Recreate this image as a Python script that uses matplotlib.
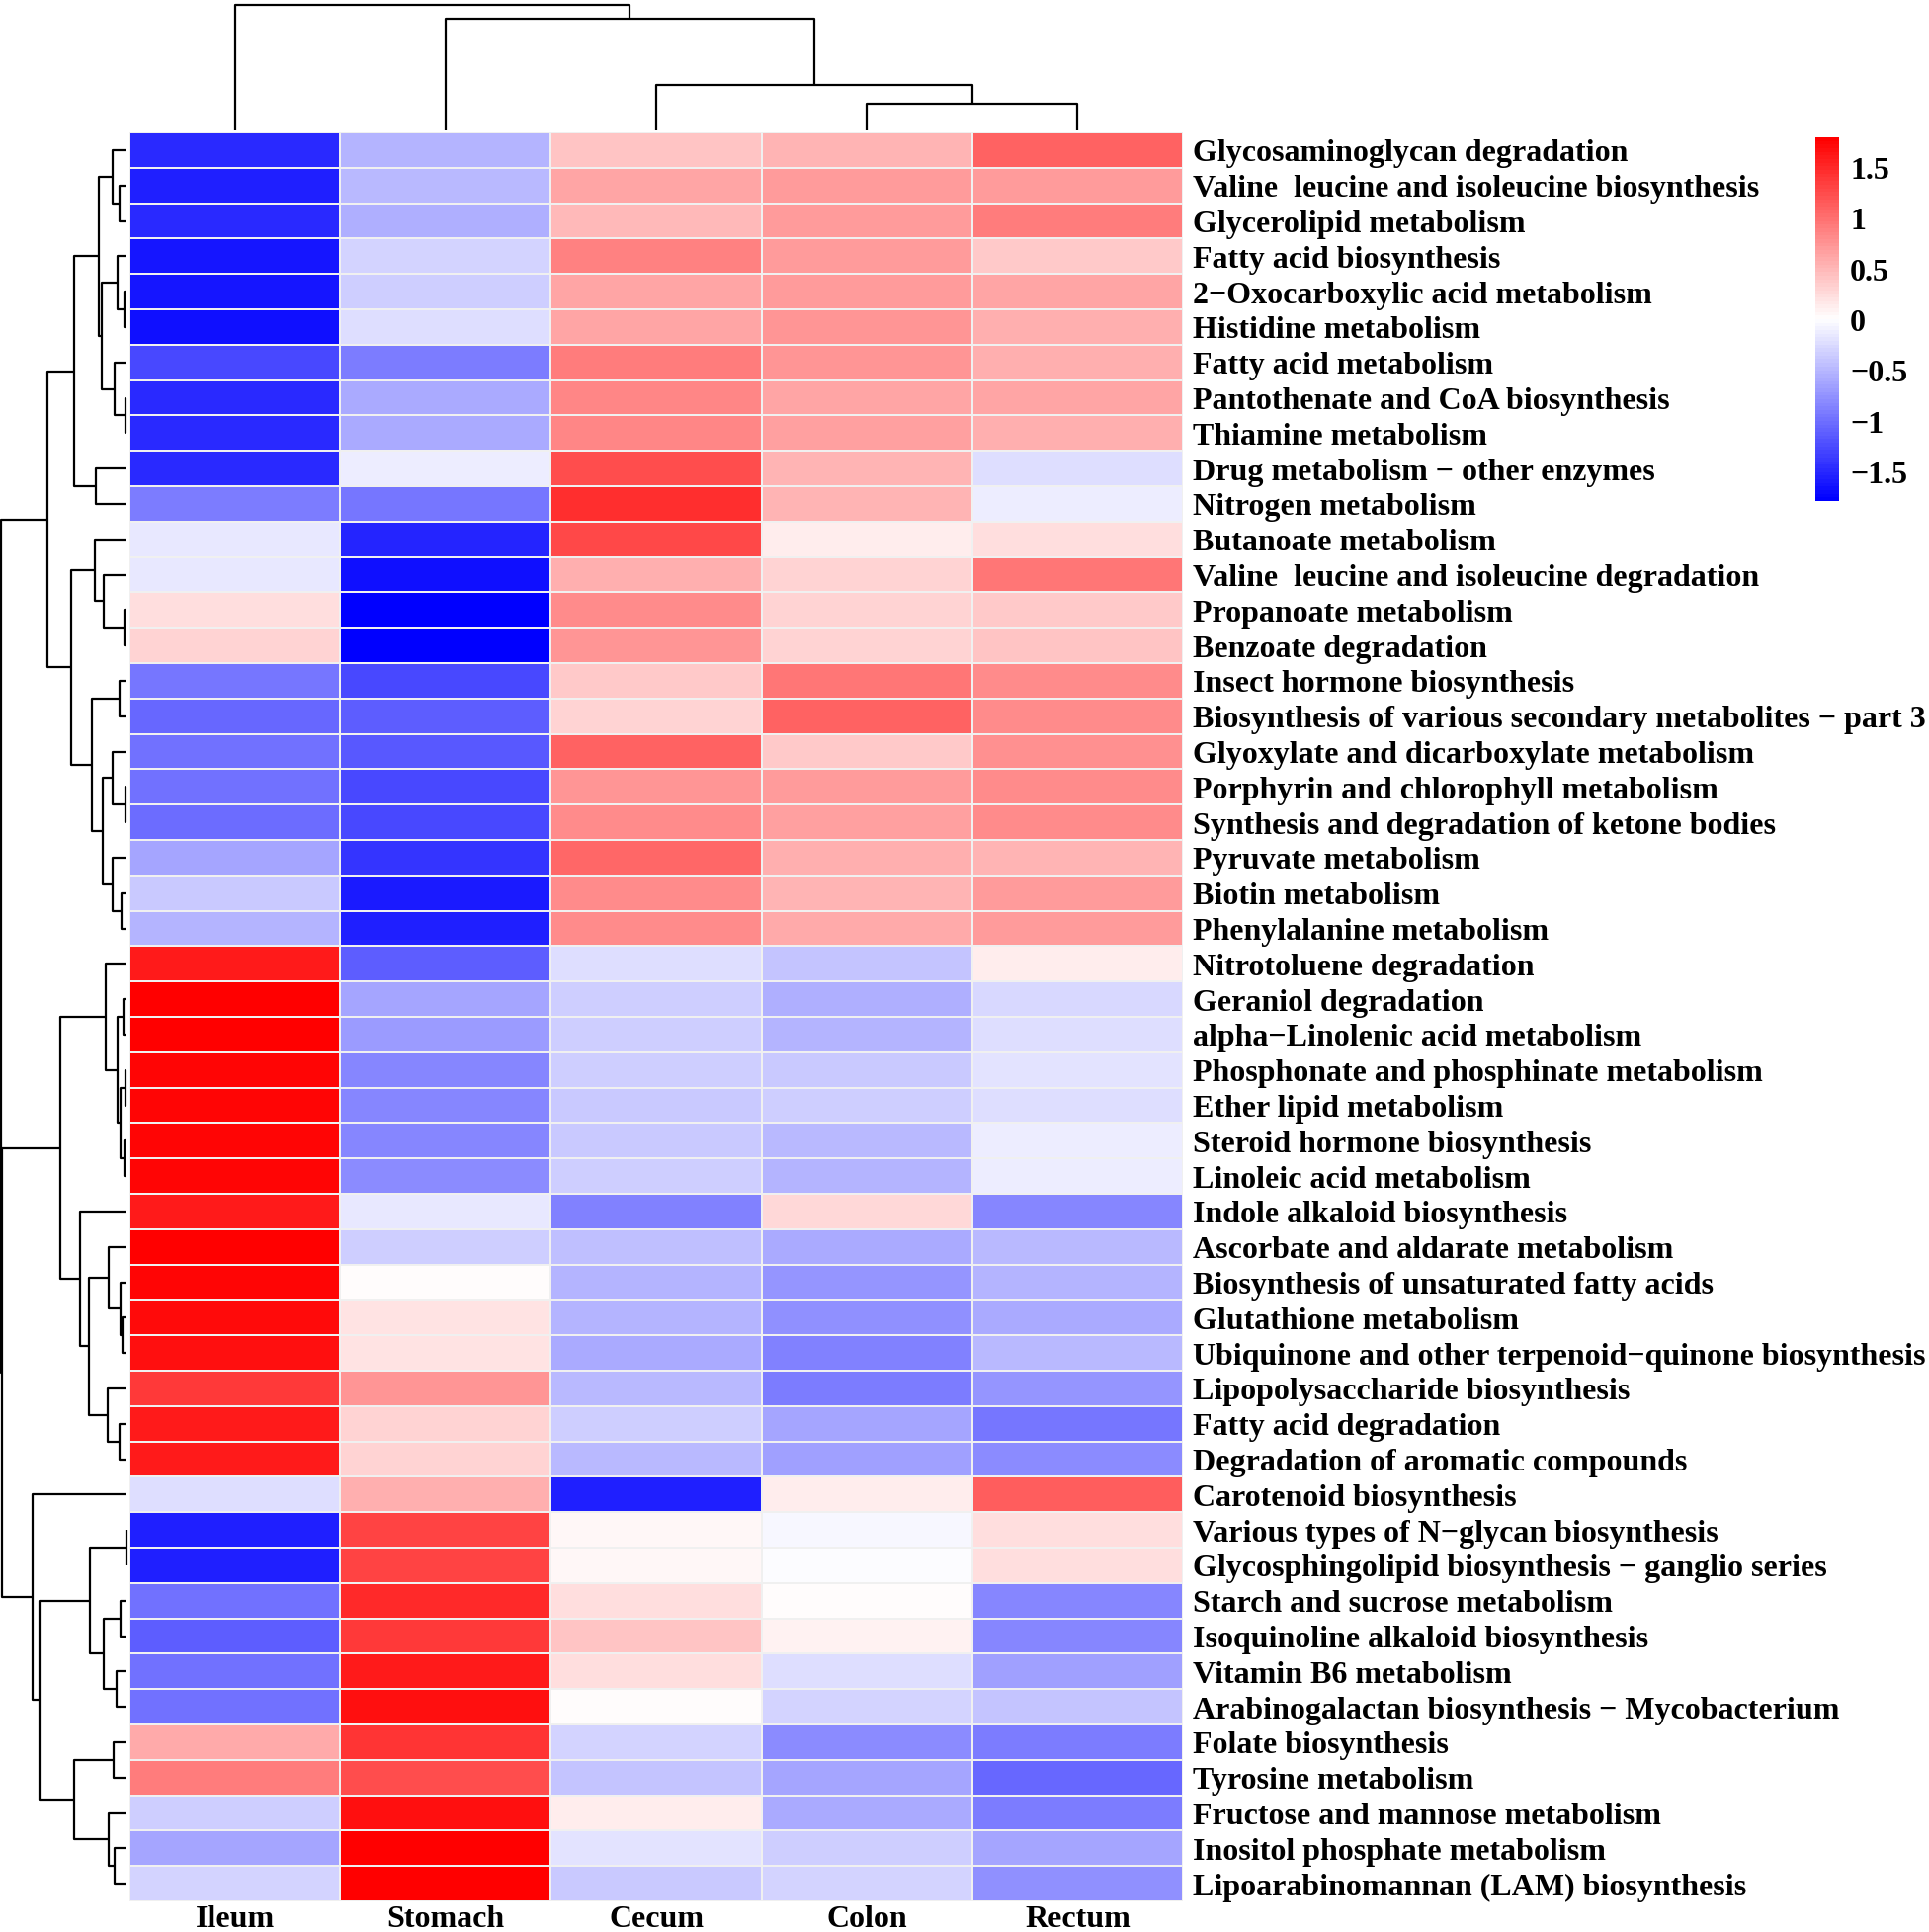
import numpy as np
import matplotlib
matplotlib.use('Agg')
import matplotlib.pyplot as plt
from matplotlib.colors import LinearSegmentedColormap, Normalize
from matplotlib.cm import ScalarMappable
from matplotlib.transforms import offset_copy

plt.rcParams['font.family'] = ['Liberation Serif', 'DejaVu Serif']
plt.rcParams['font.weight'] = 'bold'

samples = ['Ileum', 'Stomach', 'Cecum', 'Colon', 'Rectum']

pathways = [
    'Glycosaminoglycan degradation',
    'Valine  leucine and isoleucine biosynthesis',
    'Glycerolipid metabolism',
    'Fatty acid biosynthesis',
    '2\u2212Oxocarboxylic acid metabolism',
    'Histidine metabolism',
    'Fatty acid metabolism',
    'Pantothenate and CoA biosynthesis',
    'Thiamine metabolism',
    'Drug metabolism \u2212 other enzymes',
    'Nitrogen metabolism',
    'Butanoate metabolism',
    'Valine  leucine and isoleucine degradation',
    'Propanoate metabolism',
    'Benzoate degradation',
    'Insect hormone biosynthesis',
    'Biosynthesis of various secondary metabolites \u2212 part 3',
    'Glyoxylate and dicarboxylate metabolism',
    'Porphyrin and chlorophyll metabolism',
    'Synthesis and degradation of ketone bodies',
    'Pyruvate metabolism',
    'Biotin metabolism',
    'Phenylalanine metabolism',
    'Nitrotoluene degradation',
    'Geraniol degradation',
    'alpha\u2212Linolenic acid metabolism',
    'Phosphonate and phosphinate metabolism',
    'Ether lipid metabolism',
    'Steroid hormone biosynthesis',
    'Linoleic acid metabolism',
    'Indole alkaloid biosynthesis',
    'Ascorbate and aldarate metabolism',
    'Biosynthesis of unsaturated fatty acids',
    'Glutathione metabolism',
    'Ubiquinone and other terpenoid\u2212quinone biosynthesis',
    'Lipopolysaccharide biosynthesis',
    'Fatty acid degradation',
    'Degradation of aromatic compounds',
    'Carotenoid biosynthesis',
    'Various types of N\u2212glycan biosynthesis',
    'Glycosphingolipid biosynthesis \u2212 ganglio series',
    'Starch and sucrose metabolism',
    'Isoquinoline alkaloid biosynthesis',
    'Vitamin B6 metabolism',
    'Arabinogalactan biosynthesis \u2212 Mycobacterium',
    'Folate biosynthesis',
    'Tyrosine metabolism',
    'Fructose and mannose metabolism',
    'Inositol phosphate metabolism',
    'Lipoarabinomannan (LAM) biosynthesis',
]

# row-scaled (z-score) values
ileum = [-1.49, -1.56, -1.49, -1.64, -1.64, -1.68, -1.27, -1.49, -1.49, -1.49, -0.92,
         -0.16, -0.16, 0.25, 0.29, -0.95, -1.06, -1.00, -1.00, -1.03, -0.63, -0.39, -0.52,
         1.58, 1.79, 1.79, 1.74, 1.74, 1.74, 1.74, 1.58, 1.79, 1.74, 1.70, 1.68, 1.37, 1.58, 1.61,
         -0.22, -1.55, -1.55, -1.00, -1.11, -1.00, -1.00, 0.59, 0.90, -0.33, -0.63, -0.32]
stomach = [-0.52, -0.50, -0.57, -0.32, -0.34, -0.25, -0.90, -0.59, -0.59, -0.11, -0.95,
           -1.53, -1.68, -1.79, -1.79, -1.26, -1.12, -1.17, -1.26, -1.26, -1.43, -1.61, -1.55,
           -1.14, -0.63, -0.70, -0.84, -0.84, -0.84, -0.81, -0.16, -0.34, 0.00, 0.18, 0.20, 0.74, 0.32, 0.32,
           0.54, 1.31, 1.31, 1.49, 1.38, 1.61, 1.65, 1.43, 1.23, 1.65, 1.79, 1.79]
cecum = [0.41, 0.63, 0.49, 0.86, 0.63, 0.63, 0.92, 0.84, 0.84, 1.23, 1.46,
         1.27, 0.54, 0.82, 0.74, 0.39, 0.29, 1.09, 0.74, 0.81, 1.06, 0.82, 0.82,
         -0.22, -0.33, -0.33, -0.34, -0.39, -0.39, -0.33, -0.86, -0.45, -0.52, -0.52, -0.59, -0.50, -0.33, -0.50,
         -1.56, 0.07, 0.07, 0.25, 0.41, 0.25, 0.00, -0.32, -0.41, 0.13, -0.18, -0.39]
colon = [0.52, 0.70, 0.70, 0.70, 0.70, 0.74, 0.72, 0.64, 0.66, 0.52, 0.52,
         0.13, 0.29, 0.32, 0.29, 0.95, 1.09, 0.39, 0.70, 0.66, 0.54, 0.52, 0.59,
         -0.41, -0.57, -0.52, -0.39, -0.34, -0.47, -0.52, 0.27, -0.59, -0.74, -0.76, -0.86, -0.93, -0.63, -0.66,
         0.13, -0.07, -0.02, 0.00, 0.09, -0.25, -0.29, -0.81, -0.63, -0.59, -0.33, -0.29]
rectum = [1.09, 0.70, 0.90, 0.39, 0.63, 0.55, 0.54, 0.63, 0.55, -0.22, -0.11,
          0.25, 0.95, 0.39, 0.41, 0.81, 0.81, 0.78, 0.81, 0.81, 0.52, 0.70, 0.70,
          0.13, -0.27, -0.22, -0.18, -0.25, -0.11, -0.11, -0.84, -0.47, -0.52, -0.59, -0.50, -0.74, -0.95, -0.81,
          1.14, 0.22, 0.22, -0.84, -0.84, -0.66, -0.41, -0.92, -1.06, -0.90, -0.63, -0.76]

# dendrogram trees (height, left, right); leaves are display indices
row_tree = (128,
            (81,
             (53,
              (28, (14, 0, (7, 1, 2)),
                   (25, (9, 3, (2, 4, 5)), (12, 6, (1, 7, 8)))),
              (31, 9, 10)),
             (56,
              (32, 11, (23, 12, (2, 13, 14))),
              (35, (7, 15, 16),
                   (24, (14, 17, (1, 18, 19)), (14, 20, (5, 21, 22)))))),
            (126.5,
             (68,
              (21, 23, (9, (3, 24, 25), (6, (1, 26, 27), (2, 28, 29)))),
              (47, 30,
               (38, (18, 31, (6, 32, (4, 33, 34))), (19, 35, (7, 36, 37))))),
             (96, 38,
              (89,
               (37, (0.5, 39, 40), (23, (6, 41, 42), (10, 43, 44))),
               (53, (13, 45, 46), (18, 47, (12, 48, 49)))))))
col_tree = (127, 0, (113, 1, (46, 2, (27, 3, 4))))

cbar_ticks = [-1.5, -1, -0.5, 0, 0.5, 1, 1.5]
cbar_labels = ['\u22121.5', '\u22121', '\u22120.5', '0', '0.5', '1', '1.5']

data = np.column_stack([ileum, stomach, cecum, colon, rectum])
vmax = 1.79
cmap = LinearSegmentedColormap.from_list('bwr_ph', ['#0000FF', '#FFFFFF', '#FF0000'], N=100)

W, H = 1952, 1956
fig = plt.figure(figsize=(W / 100, H / 100), dpi=100)


def ax_px(x0, y0, x1, y1):
    a = fig.add_axes([x0 / W, 1 - y1 / H, (x1 - x0) / W, (y1 - y0) / H])
    a.set_axis_off()
    return a


FS = 23
nrow, ncol = data.shape

# heatmap
ax = ax_px(131, 135, 1197, 1925)
ax.pcolormesh(np.arange(ncol + 1), np.arange(nrow + 1), data, cmap=cmap,
              vmin=-vmax, vmax=vmax, edgecolors='#f0f0f0', linewidth=1.3)
ax.set_xlim(0, ncol)
ax.set_ylim(nrow, 0)

tr_row = offset_copy(ax.transData, fig=fig, x=10, y=-10.5, units='dots')
for i, name in enumerate(pathways):
    ax.text(ncol, i + 0.5, name, transform=tr_row, ha='left', va='baseline',
            fontsize=FS, fontweight='bold', clip_on=False)
tr_col = offset_copy(ax.transData, fig=fig, x=0, y=-25, units='dots')
for j, name in enumerate(samples):
    ax.text(j + 0.5, nrow, name, transform=tr_col, ha='center', va='baseline',
            fontsize=FS, fontweight='bold', clip_on=False)


def draw_tree(node, a, orient):
    if isinstance(node, int):
        return node + 0.5, 0.0
    h, left, right = node
    pl, hl = draw_tree(left, a, orient)
    pr, hr = draw_tree(right, a, orient)
    if orient == 'row':
        a.plot([hl, h, h, hr], [pl, pl, pr, pr], color='black', lw=1.6,
               solid_capstyle='butt', clip_on=False)
    else:
        a.plot([pl, pl, pr, pr], [hl, h, h, hr], color='black', lw=1.6,
               solid_capstyle='butt', clip_on=False)
    return (pl + pr) / 2, h


# row dendrogram
axr = ax_px(1, 135, 128, 1925)
draw_tree(row_tree, axr, 'row')
axr.set_xlim(128, 0)
axr.set_ylim(nrow, 0)

# column dendrogram
axc = ax_px(131, 6, 1197, 133)
draw_tree(col_tree, axc, 'col')
axc.set_xlim(0, ncol)
axc.set_ylim(0, 127)

# colour legend
cax = fig.add_axes([1837 / W, 1 - 508 / H, 24 / W, 368 / H])
sm = ScalarMappable(norm=Normalize(-vmax, vmax), cmap=cmap)
cb = fig.colorbar(sm, cax=cax, ticks=cbar_ticks)
cb.outline.set_visible(False)
cb.ax.tick_params(length=0, pad=8)
cb.ax.set_yticklabels(cbar_labels, fontsize=FS, fontweight='bold')

fig.savefig('out.png', dpi=100)
